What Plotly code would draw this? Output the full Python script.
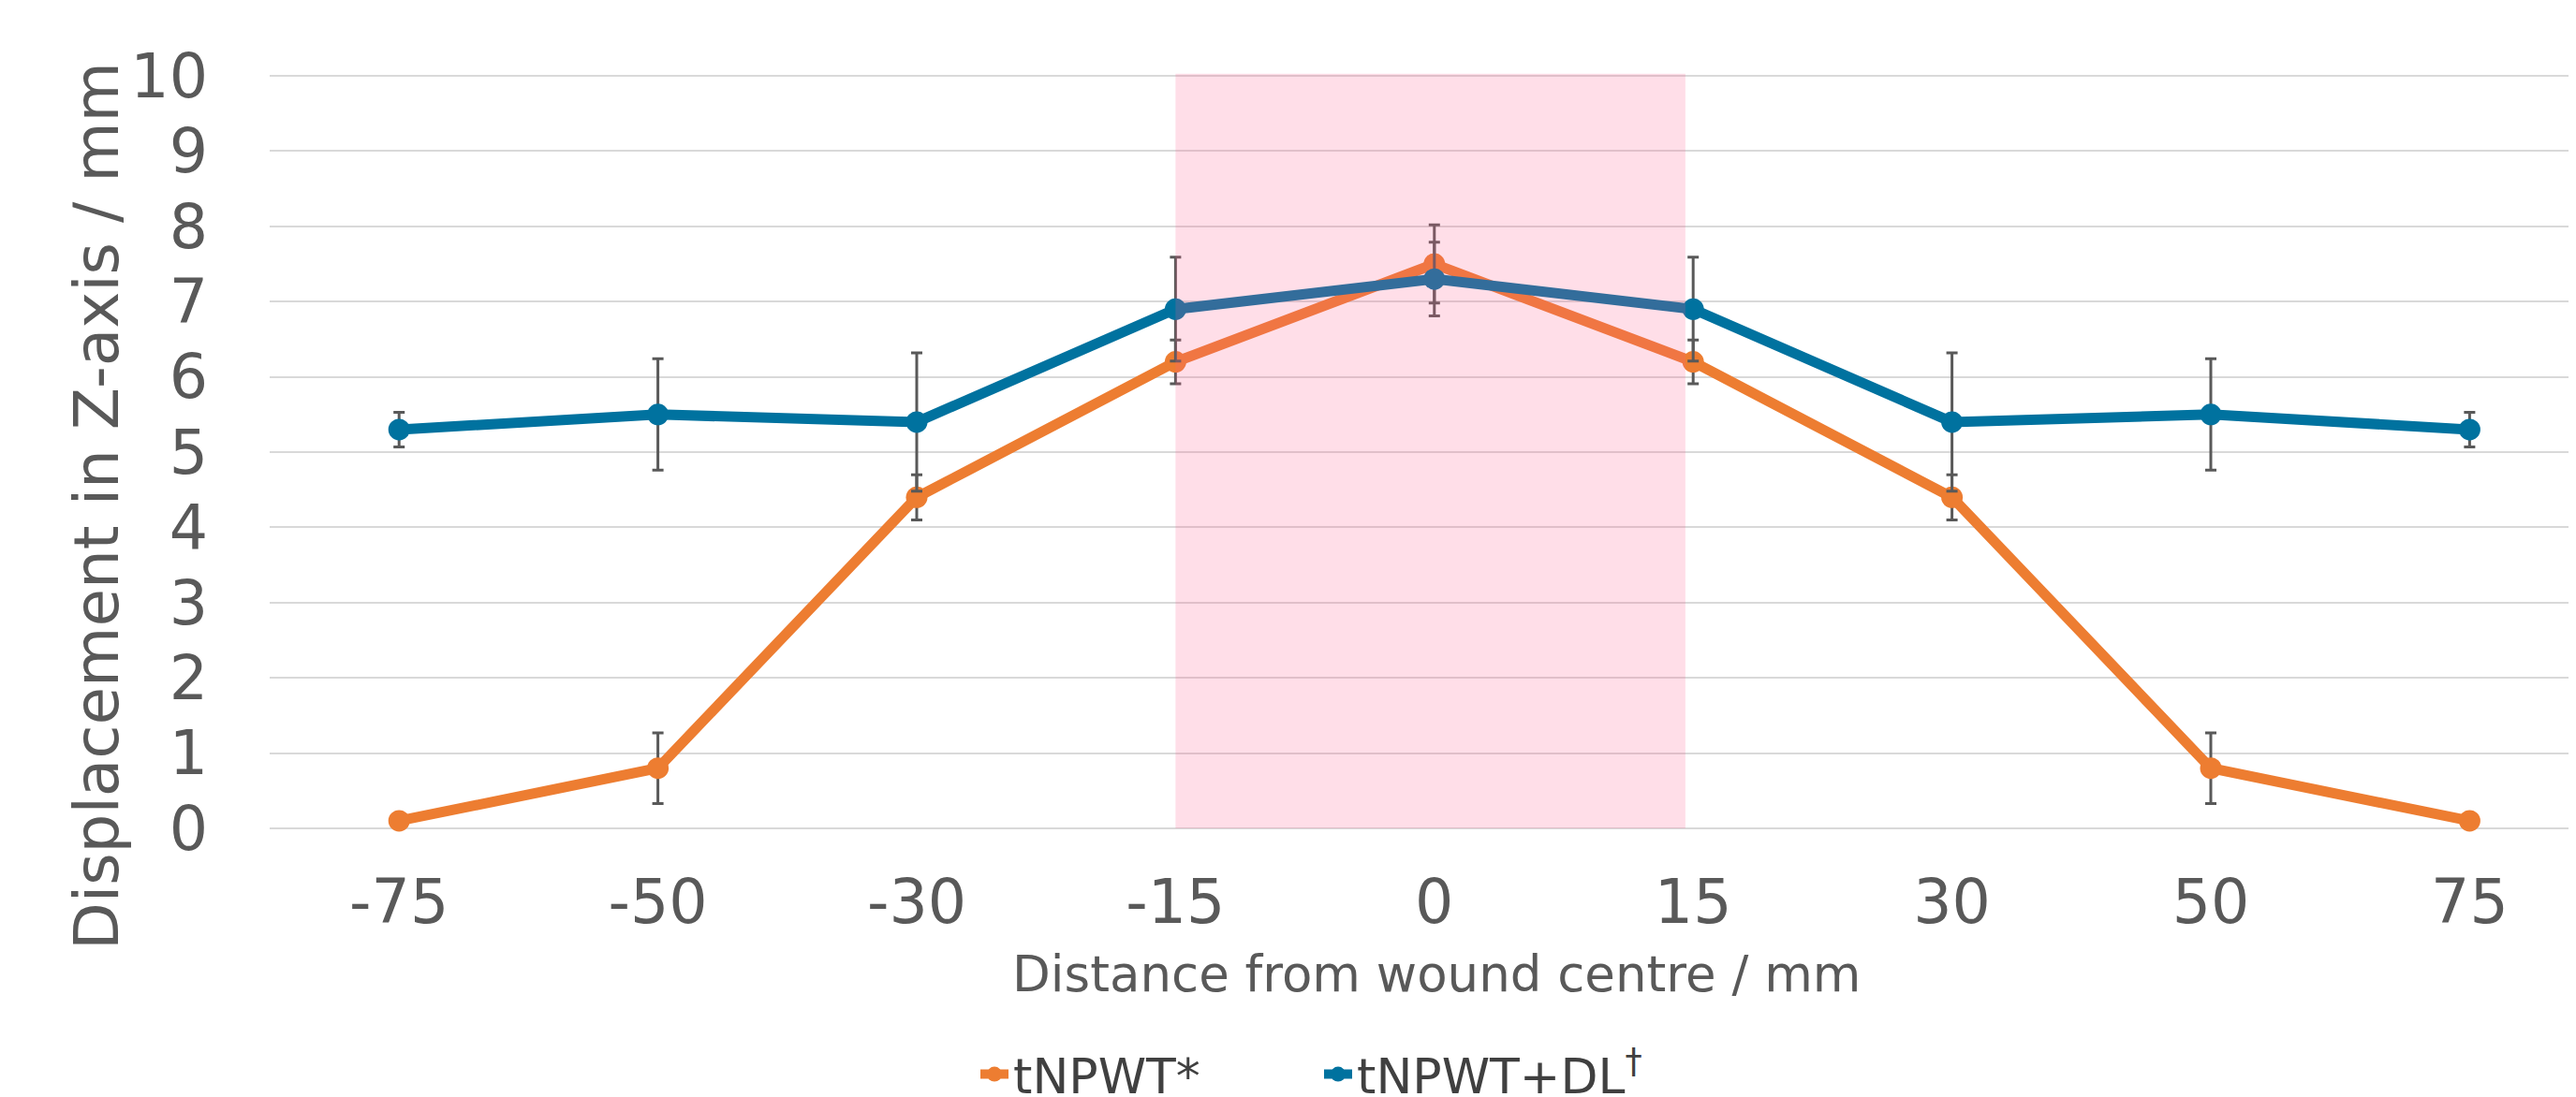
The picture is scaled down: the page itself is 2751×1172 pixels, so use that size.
import plotly.graph_objects as go

categories = ["-75", "-50", "-30", "-15", "0", "15", "30", "50", "75"]
tnpwt = [0.1, 0.8, 4.4, 6.2, 7.5, 6.2, 4.4, 0.8, 0.1]
tnpwt_err = [0.0, 0.47, 0.30, 0.29, 0.52, 0.29, 0.30, 0.47, 0.0]
tnpwt_dl = [5.3, 5.5, 5.4, 6.9, 7.3, 6.9, 5.4, 5.5, 5.3]
tnpwt_dl_err = [0.23, 0.74, 0.92, 0.69, 0.49, 0.69, 0.92, 0.74, 0.23]
y_ticks = list(range(0, 11))

ORANGE = "#ED7D31"
BLUE = "#00729F"
GRAY_TXT = "#595959"
FONT = "DejaVu Sans"

fig = go.Figure()

def add_series(name, values, errs, color):
    fig.add_trace(go.Scatter(
        x=categories, y=values, name=name, mode="lines+markers",
        line=dict(color=color, width=11),
        marker=dict(color=color, size=23),
        error_y=dict(type="data", array=errs, visible=True,
                     color="#595959", thickness=3, width=6),
        cliponaxis=False,
    ))

add_series("tNPWT*", tnpwt, tnpwt_err, ORANGE)
add_series("tNPWT+DL<sup>†</sup>", tnpwt_dl, tnpwt_dl_err, BLUE)

# shaded wound region (-15 to 15 mm)
fig.add_shape(type="rect", xref="x", yref="y",
              x0=categories.index("-15"), x1=categories.index("15") - 0.03,
              y0=0, y1=10.03, layer="above", line=dict(width=0),
              fillcolor="rgba(255,90,140,0.2)")

W, H = 2751, 1172
L, R, T, B = 280, 0, 57, 295

fig.update_layout(
    width=W, height=H,
    margin=dict(l=L, r=R, t=T, b=B),
    paper_bgcolor="white", plot_bgcolor="white",
    font=dict(family=FONT, color=GRAY_TXT),
    showlegend=True,
    legend=dict(orientation="h", xref="container", yref="container",
                x=1034 / W, xanchor="left", y=0.0275, yanchor="middle",
                font=dict(size=52, color="#404040", family=FONT),
                itemwidth=30, entrywidth=322, entrywidthmode="pixels",
                traceorder="normal", bgcolor="rgba(0,0,0,0)"),
    xaxis=dict(type="category", range=[-0.5, 8.44],
               showgrid=False, zeroline=False, showline=False,
               tickfont=dict(size=65, color=GRAY_TXT, family=FONT),
               ticks="", ticklabelstandoff=35),
    yaxis=dict(range=[0, 10.2], tickvals=y_ticks,
               showgrid=True, gridcolor="#D9D9D9", gridwidth=2,
               zeroline=True, zerolinecolor="#D9D9D9", zerolinewidth=2,
               showline=False, ticks="",
               tickfont=dict(size=65, color=GRAY_TXT, family=FONT),
               ticklabelstandoff=65),
    annotations=[
        dict(text="Displacement in Z-axis / mm", xref="paper", yref="paper",
             x=(95 - L) / (W - L - R), y=(H - B - 533) / (H - B - T),
             xanchor="center", yanchor="middle", textangle=-90,
             showarrow=False, font=dict(size=66, color=GRAY_TXT, family=FONT)),
        dict(text="Distance from wound centre / mm", xref="paper", yref="paper",
             x=(1526 - L) / (W - L - R), y=-(1032 - (H - B)) / (H - B - T),
             xanchor="center", yanchor="middle",
             showarrow=False, font=dict(size=53, color=GRAY_TXT, family=FONT)),
    ],
)

fig.write_html("out.html")
